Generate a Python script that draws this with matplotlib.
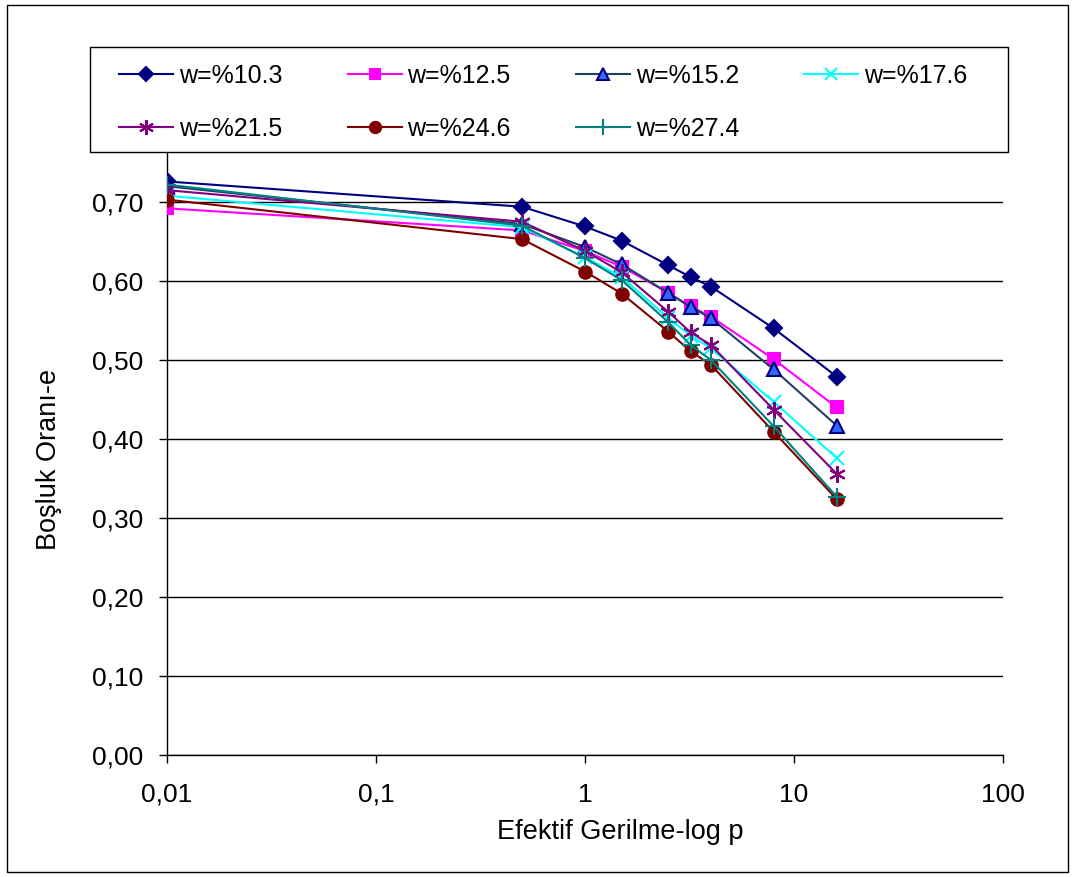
import numpy as np
import matplotlib.pyplot as plt
from matplotlib.patches import Rectangle

plt.rcParams['font.family'] = ['Liberation Sans', 'DejaVu Sans']

W, H = 1075, 877

# effective stress (log p) values
stress = [0.01, 0.5, 1.0, 1.5, 2.5, 3.2, 4.0, 8.0, 16.0]

# void ratio for each water content
e_103 = [0.726, 0.694, 0.669, 0.651, 0.620, 0.605, 0.593, 0.540, 0.479]
e_125 = [0.692, 0.664, 0.638, 0.618, 0.585, 0.568, 0.555, 0.501, 0.440]
e_152 = [0.720, 0.672, 0.643, 0.621, 0.585, 0.567, 0.553, 0.488, 0.417]
e_176 = [0.708, 0.668, 0.630, 0.605, 0.553, 0.531, 0.515, 0.447, 0.376]
e_215 = [0.715, 0.675, 0.638, 0.611, 0.561, 0.535, 0.519, 0.437, 0.356]
e_246 = [0.703, 0.653, 0.612, 0.584, 0.536, 0.511, 0.494, 0.409, 0.324]
e_274 = [0.722, 0.670, 0.629, 0.601, 0.548, 0.519, 0.500, 0.416, 0.327]

labels = ["w=%10.3", "w=%12.5", "w=%15.2", "w=%17.6",
          "w=%21.5", "w=%24.6", "w=%27.4"]
series = [e_103, e_125, e_152, e_176, e_215, e_246, e_274]

# line colour, marker, marker face, marker edge, marker size
styles = [
    ("#000080", "D", "#000080", "#000080", 8),
    ("#FF00FF", "s", "#FF00FF", "#FF00FF", 8),
    ("#1F3F66", "^", "#3366FF", "#000080", 10),
    ("#00FFFF", "x", "#00FFFF", "#00FFFF", 10),
    ("#800080", (6, 2, 0), "#800080", "#800080", 12),
    ("#800000", "o", "#800000", "#800000", 9),
    ("#008080", "+", "#008080", "#008080", 13),
]

fig = plt.figure(figsize=(W / 100, H / 100), dpi=100)
ax = fig.add_axes([167 / W, 1 - 755 / H, (1003 - 167) / W, (755 - 123) / H])

handles = []
for vals, lab, (lc, mk, mfc, mec, ms) in zip(series, labels, styles):
    h, = ax.plot(stress, vals, color=lc, lw=1.5, marker=mk, markersize=ms,
                 markerfacecolor=mfc, markeredgecolor=mec, markeredgewidth=1.5,
                 label=lab, zorder=3)
    handles.append(h)

ax.set_xscale("log")
ax.set_xlim(0.01, 100)
ax.set_ylim(0, 0.8)
ax.set_xticks([0.01, 0.1, 1, 10, 100])
ax.set_xticklabels(["0,01", "0,1", "1", "10", "100"])
ax.minorticks_off()
yt = [0.0, 0.1, 0.2, 0.3, 0.4, 0.5, 0.6, 0.7]
ax.set_yticks(yt)
ax.set_yticklabels([f"{v:.2f}".replace(".", ",") for v in yt])
ax.tick_params(axis="both", labelsize=19, direction="out", length=6, width=1, color="black")
ax.tick_params(axis="x", pad=14)
ax.tick_params(axis="y", pad=11)
ax.grid(axis="y", color="black", lw=1)
ax.set_axisbelow(True)
for s in ["top", "right"]:
    ax.spines[s].set_visible(False)
for s in ["left", "bottom"]:
    ax.spines[s].set_color("black")
    ax.spines[s].set_linewidth(1)

fig.text(620 / W, 1 - 832 / H, "Efektif Gerilme-log p", fontsize=19.5,
         ha="center", va="center")
fig.text(49 / W, 1 - 459 / H, "Boşluk Oranı-e", fontsize=19.5,
         ha="center", va="center", rotation=90)

# legend box drawn by hand, entries placed row by row
fig.patches.append(Rectangle((90 / W, 1 - 152 / H), 918 / W, 105 / H,
                             transform=fig.transFigure, facecolor="white",
                             edgecolor="black", lw=1, zorder=5))
order = [0, 4, 1, 5, 2, 6, 3]
leg = fig.legend(handles=[handles[i] for i in order],
                 labels=[labels[i] for i in order],
                 loc="upper left", ncol=4, bbox_to_anchor=(119 / W, 1 - 64 / H),
                 fontsize=18, frameon=False, handlelength=2.16,
                 handletextpad=0.24, columnspacing=2.6, labelspacing=1.15,
                 borderpad=0, borderaxespad=0, markerscale=0.9)
leg.set_zorder(10)

fig.patches.append(Rectangle((7 / W, 5 / H), 1061 / W, 867 / H,
                             transform=fig.transFigure, fill=False,
                             edgecolor="black", lw=1))

fig.savefig("out.png", dpi=100)
